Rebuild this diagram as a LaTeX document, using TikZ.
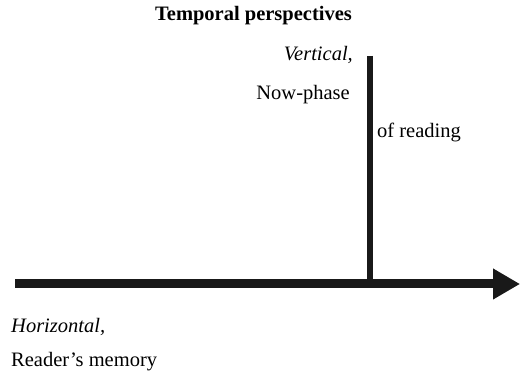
\documentclass[tikz,border=0pt]{standalone}
\usepackage{fontspec}
\setmainfont{Liberation Serif}
\usetikzlibrary{arrows.meta}
\tikzset{
  axisline/.style={line width=9pt,black!90},
  axisshadow/.style={line width=9pt,black!25},
  lbl/.style={inner sep=0pt,font=\fontsize{20.5}{24}\selectfont}
}
\begin{document}
\begin{tikzpicture}[x=1pt,y=1pt]
    \useasboundingbox (0,0) rectangle (520,379);
    \coordinate (hstart) at (15,95);
    \coordinate (hend) at (520,95);
    \coordinate (vtop) at (370,323);
    \coordinate (vbase) at (370,95);
    % shadows
    \draw[axisshadow,line width=6pt,xshift=1.8pt,yshift=-1.5pt] (vtop) -- (vbase);
    \draw[axisshadow,-{Triangle[length=27pt,width=29pt]},xshift=0.5pt,yshift=-3pt] (hstart) -- (hend);
    % axes
    \draw[axisline,line width=6pt] (vtop) -- (vbase);
    \draw[axisline,-{Triangle[length=27pt,width=29pt]}] (hstart) -- (hend);
    % labels
    \node[lbl,anchor=base] (title) at (253.5,358) {\textbf{Temporal perspectives}};
    \node[lbl,anchor=base east] (vert) at (353,318.5) {\textit{Vertical,}};
    \node[lbl,anchor=base east] (nowphase) at (350,279.5) {Now-phase};
    \node[lbl,anchor=base west] (reading) at (377,241.5) {of reading};
    \node[lbl,anchor=base west] (horiz) at (11,46) {\textit{Horizontal,}};
    \node[lbl,anchor=base west] (memory) at (11,12) {Reader’s memory};
  \end{tikzpicture}
\end{document}
